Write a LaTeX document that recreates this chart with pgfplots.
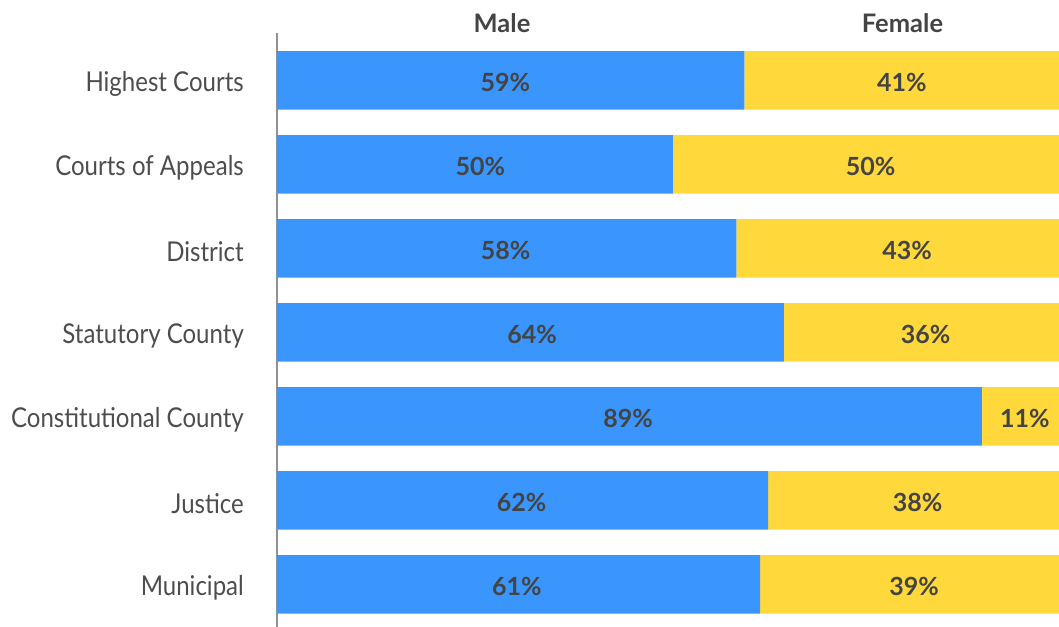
\documentclass[border=0pt]{standalone}
\usepackage{fontspec}
\setmainfont{Lato}[FakeStretch=0.88, BoldFeatures={FakeStretch=1.0}]
\usepackage{pgfplots}
\pgfplotsset{compat=1.18}
\usepackage{pgfplotstable}

\definecolor{mblue}{HTML}{3A95FD}
\definecolor{fyellow}{HTML}{FFD83C}
\definecolor{valtext}{HTML}{444444}
\definecolor{cattext}{HTML}{4D4D4D}
\definecolor{axgray}{HTML}{8F9398}

% idx: category row; male/female: shares (%); mlab/flab: label positions (%)
\pgfplotstableread{
idx male female mlab  flab
0   59   41     28.83 78.89
1   50   50     25.69 74.96
2   58   43     28.88 79.57
3   64   36     32.20 81.91
4   89   11     44.32 94.42
5   62   38     30.90 80.90
6   61   39     30.30 80.43
}\courtdata

\begin{document}
\begin{tikzpicture}
\begin{axis}[
  name=main,
  scale only axis, width=782pt, height=594pt,
  xbar stacked, bar width=58.5pt,
  xmin=0, xmax=98.74,
  ymin=-0.563, ymax=6.508, y dir=reverse,
  axis x line=none,
  axis y line*=left,
  y axis line style={draw=axgray, line width=2.5pt},
  ytick={0,...,6},
  yticklabels={Highest Courts, Courts of Appeals, District, Statutory County, Constitutional County, Justice, Municipal},
  major tick length=0pt,
  yticklabel style={font=\fontsize{27.3}{30}\selectfont, text=cattext, inner sep=0pt, xshift=-33pt, yshift=-3.5pt},
]
\addplot[fill=mblue, draw=none] table[x=male, y=idx] {\courtdata};
\addplot[fill=fyellow, draw=none] table[x=female, y=idx] {\courtdata};
\end{axis}
\begin{axis}[
  at={(main.south west)}, anchor=south west,
  scale only axis, width=782pt, height=594pt,
  xmin=0, xmax=98.74,
  ymin=-0.563, ymax=6.508, y dir=reverse,
  axis lines=none, clip=false,
  /pgf/number format/assume math mode=true,
]
\addplot[draw=none, nodes near coords={\pgfmathprintnumber{\pgfplotspointmeta}\%},
  point meta=explicit,
  every node near coord/.style={anchor=center, yshift=-2.5pt, font=\bfseries\fontsize{25}{30}\selectfont, text=valtext}]
  table[x=mlab, y=idx, meta=male] {\courtdata};
\addplot[draw=none, nodes near coords={\pgfmathprintnumber{\pgfplotspointmeta}\%},
  point meta=explicit,
  every node near coord/.style={anchor=center, yshift=-2.5pt, font=\bfseries\fontsize{25}{30}\selectfont, text=valtext}]
  table[x=flab, y=idx, meta=female] {\courtdata};
\node[font=\bfseries\fontsize{25.5}{30}\selectfont, text=valtext, anchor=center] at (axis cs:28.41,-0.684) {Male};
\node[font=\bfseries\fontsize{25.5}{30}\selectfont, text=valtext, anchor=center] at (axis cs:78.98,-0.684) {Female};
\end{axis}
\pgfresetboundingbox
\path[use as bounding box] ([xshift=-277pt]main.south west) rectangle ([yshift=33pt]main.north east);
\end{tikzpicture}
\end{document}
